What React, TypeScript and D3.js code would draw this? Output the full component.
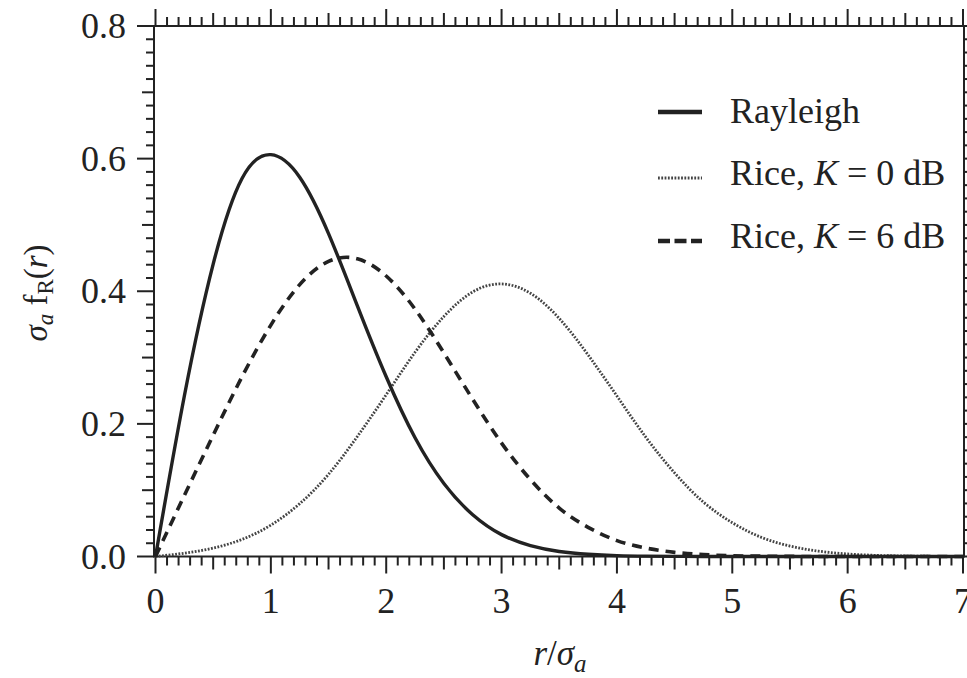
import * as d3 from "d3";
import { useEffect, useRef } from "react";

// r / sigma_a sample positions
const rValues = [0, 0.25, 0.5, 0.75, 1, 1.25, 1.5, 1.75, 2, 2.25, 2.5, 2.75, 3, 3.25, 3.5, 3.75, 4, 4.25, 4.5, 4.75, 5, 5.25, 5.5, 5.75, 6, 6.25, 6.5, 6.75, 7];

// values
const rayleigh = [0, 0.242, 0.441, 0.57, 0.606, 0.572, 0.487, 0.378, 0.271, 0.179, 0.11, 0.063, 0.033, 0.0165, 0.0076, 0.0033, 0.0013, 0.0005, 0.0002, 0, 0, 0, 0, 0, 0, 0, 0, 0, 0];
const riceDashed = [0, 0.092, 0.183, 0.271, 0.349, 0.41, 0.445, 0.449, 0.423, 0.373, 0.307, 0.237, 0.171, 0.116, 0.073, 0.044, 0.024, 0.0127, 0.0062, 0.0029, 0.0012, 0.0005, 0.0002, 0, 0, 0, 0, 0, 0];
const riceDotted = [0, 0.005, 0.0127, 0.0258, 0.0473, 0.0797, 0.124, 0.181, 0.244, 0.308, 0.362, 0.399, 0.411, 0.397, 0.359, 0.304, 0.242, 0.18, 0.126, 0.082, 0.051, 0.029, 0.0158, 0.008, 0.0038, 0.0017, 0.0007, 0.0003, 0.0001];

const xTickLabels = ["0", "1", "2", "3", "4", "5", "6", "7"];
const yTickLabels = ["0.0", "0.2", "0.4", "0.6", "0.8"];

const legendNames = ["Rayleigh", "Rice, ", "Rice, "];
const legendK = ["", "0 dB", "6 dB"];

const W = 967;
const H = 678;
const FONT = "'Liberation Serif', 'Times New Roman', serif";
const INK = "#222";

export default function App() {
  const ref = useRef<SVGSVGElement | null>(null);

  useEffect(() => {
    const svg = d3.select(ref.current);
    svg.selectAll("*").remove();

    const x = d3.scaleLinear().domain([0, 7]).range([155.5, 963]);
    const y = d3.scaleLinear().domain([0, 0.8]).range([556.5, 26]);
    const left = 154;
    const right = 964;
    const top = y(0.8);
    const bottom = y(0);

    // frame
    svg
      .append("rect")
      .attr("x", left)
      .attr("y", top)
      .attr("width", right - left)
      .attr("height", bottom - top)
      .attr("fill", "none")
      .attr("stroke", INK)
      .attr("stroke-width", 2);

    // x ticks (every 0.1)
    const xt = d3.range(0, 71).map((i) => i / 10);
    xt.forEach((v, i) => {
      const len = i % 10 === 0 ? 17 : i % 5 === 0 ? 13 : 9;
      const px = x(v);
      svg.append("line").attr("x1", px).attr("x2", px).attr("y1", bottom).attr("y2", bottom + len)
        .attr("stroke", INK).attr("stroke-width", 2);
      svg.append("line").attr("x1", px).attr("x2", px).attr("y1", top).attr("y2", top - len)
        .attr("stroke", INK).attr("stroke-width", 2);
    });

    // y ticks (every 0.02)
    const yt = d3.range(0, 41).map((i) => i / 50);
    yt.forEach((v, i) => {
      const len = i % 10 === 0 ? 17 : i % 5 === 0 ? 12 : 8;
      const py = y(v);
      svg.append("line").attr("x1", left).attr("x2", left - len).attr("y1", py).attr("y2", py)
        .attr("stroke", INK).attr("stroke-width", 2);
      svg.append("line").attr("x1", right).attr("x2", right + len).attr("y1", py).attr("y2", py)
        .attr("stroke", INK).attr("stroke-width", 2);
    });

    // tick labels
    svg.append("g")
      .selectAll("text")
      .data(xTickLabels)
      .join("text")
      .attr("x", (d) => x(+d))
      .attr("y", 613)
      .attr("text-anchor", "middle")
      .attr("font-family", FONT)
      .attr("font-size", 36)
      .attr("fill", INK)
      .text((d) => d);

    svg.append("g")
      .selectAll("text")
      .data(yTickLabels)
      .join("text")
      .attr("x", 126)
      .attr("y", (d) => y(+d) + 12)
      .attr("text-anchor", "end")
      .attr("font-family", FONT)
      .attr("font-size", 36)
      .attr("fill", INK)
      .text((d) => d);

    // axis titles
    const xl = svg.append("text")
      .attr("x", 560)
      .attr("y", 665)
      .attr("text-anchor", "middle")
      .attr("font-family", FONT)
      .attr("font-size", 35)
      .attr("fill", INK);
    xl.append("tspan").attr("font-style", "italic").text("r");
    xl.append("tspan").text("/");
    xl.append("tspan").attr("font-style", "italic").text("σ");
    xl.append("tspan").attr("font-style", "italic").attr("font-size", 25).attr("dy", 7).text("a");

    const yl = svg.append("text")
      .attr("transform", "translate(47,293) rotate(-90)")
      .attr("text-anchor", "middle")
      .attr("font-family", FONT)
      .attr("font-size", 33)
      .attr("fill", INK);
    yl.append("tspan").attr("font-style", "italic").text("σ");
    yl.append("tspan").attr("font-style", "italic").attr("font-size", 23).attr("dy", 6).text("a");
    yl.append("tspan").attr("dy", -6).text(" f");
    yl.append("tspan").attr("font-size", 23).attr("dy", 6).text("R");
    yl.append("tspan").attr("dy", -6).text("(");
    yl.append("tspan").attr("font-style", "italic").text("r");
    yl.append("tspan").text(")");

    // curves
    const line = (vals: number[]) =>
      d3.line<number>()
        .x((_, i) => x(rValues[i]))
        .y((d) => y(d))
        .curve(d3.curveNatural)(vals);

    svg.append("path").attr("d", line(riceDotted)).attr("fill", "none")
      .attr("stroke", "#444").attr("stroke-width", 2.8).attr("stroke-dasharray", "1.8,1.5");
    svg.append("path").attr("d", line(riceDashed)).attr("fill", "none")
      .attr("stroke", INK).attr("stroke-width", 3.6).attr("stroke-dasharray", "10,7");
    svg.append("path").attr("d", line(rayleigh)).attr("fill", "none")
      .attr("stroke", INK).attr("stroke-width", 3.4);

    // legend
    const lineY = [112, 178, 241];
    const textY = [123, 185, 248];
    const styles = [
      { w: 4.5, dash: null as string | null, c: INK },
      { w: 2.8, dash: "1.8,1.5", c: "#444" },
      { w: 4.5, dash: "12,4.5", c: INK },
    ];
    legendNames.forEach((name, i) => {
      const s = styles[i];
      const l = svg.append("line").attr("x1", 658).attr("x2", 702).attr("y1", lineY[i]).attr("y2", lineY[i])
        .attr("stroke", s.c).attr("stroke-width", s.w);
      if (s.dash) l.attr("stroke-dasharray", s.dash);
      const t = svg.append("text").attr("x", 730).attr("y", textY[i])
        .attr("font-family", FONT).attr("font-size", 36).attr("fill", INK);
      t.append("tspan").text(name);
      if (legendK[i]) {
        t.append("tspan").attr("font-style", "italic").text("K");
        t.append("tspan").text(" = " + legendK[i]);
      }
    });
  }, []);

  return (
    <svg
      ref={ref}
      width={W}
      height={H}
      style={{ position: "absolute", left: 0, top: 0, background: "#fff" }}
    />
  );
}
